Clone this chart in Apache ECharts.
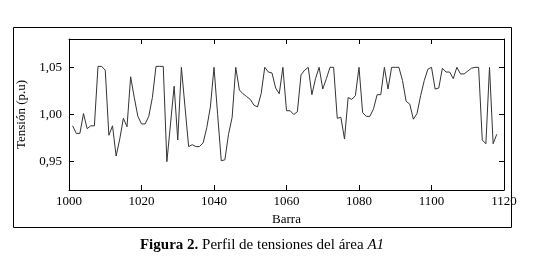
<!DOCTYPE html>
<html>
<head>
<meta charset="utf-8">
<script src="https://cdn.jsdelivr.net/npm/echarts@6/dist/echarts.min.js"></script>
<style>
  html, body { margin: 0; padding: 0; background: #fff; }
  #main { width: 546px; height: 266px; }
</style>
</head>
<body>
<div id="main"></div>
<script>
// barras 1001..1118
const firstBar = 1001;
const tensiones = [
  0.988, 0.980, 0.980, 1.001, 0.985, 0.988, 0.988, 1.051, 1.051, 1.047,
  0.978, 0.988, 0.956, 0.974, 0.996, 0.987, 1.040, 1.018, 0.998, 0.990,
  0.990, 0.998, 1.018, 1.051, 1.051, 1.051, 0.950, 0.990, 1.030, 0.973,
  1.050, 1.008, 0.966, 0.968, 0.966, 0.966, 0.970, 0.986, 1.008, 1.050,
  1.000, 0.951, 0.952, 0.979, 0.997, 1.050, 1.026, 1.022, 1.019, 1.016,
  1.010, 1.008, 1.022, 1.050, 1.045, 1.044, 1.028, 1.022, 1.050, 1.004,
  1.004, 1.000, 1.003, 1.042, 1.047, 1.050, 1.021, 1.038, 1.050, 1.027,
  1.038, 1.050, 1.050, 0.996, 0.997, 0.974, 1.018, 1.016, 1.020, 1.050,
  1.002, 0.998, 0.998, 1.006, 1.021, 1.021, 1.050, 1.027, 1.050, 1.050,
  1.050, 1.036, 1.014, 1.011, 0.995, 1.001, 1.020, 1.036, 1.048, 1.050,
  1.027, 1.028, 1.049, 1.045, 1.045, 1.038, 1.050, 1.043, 1.043, 1.046,
  1.049, 1.050, 1.050, 0.973, 0.969, 1.050, 0.969, 0.979
];
const yTicks = [0.95, 1.00, 1.05];

const serif = 'Liberation Serif';
const chart = echarts.init(document.getElementById('main'));

const data = tensiones.map((v, i) => [firstBar + i, v]);
const fmt = v => v.toFixed(2).replace('.', ',');

chart.setOption({
  animation: false,
  grid: { left: 69, right: 42, top: 39, bottom: 76 },
  xAxis: [
    {
      type: 'value', min: 1000, max: 1120, interval: 20,
      name: 'Barra', nameLocation: 'middle', nameGap: 22,
      nameTextStyle: { fontFamily: serif, fontSize: 13, color: '#000' },
      axisLine: { lineStyle: { color: '#000', width: 1 } },
      axisTick: { inside: true, length: 5, lineStyle: { color: '#000' } },
      axisLabel: { fontFamily: serif, fontSize: 13, color: '#000', margin: 5, formatter: v => String(v) },
      splitLine: { show: false }
    },
    {
      type: 'value', position: 'top', min: 1000, max: 1120, interval: 20,
      axisLine: { lineStyle: { color: '#000', width: 1 } },
      axisTick: { inside: true, length: 5, lineStyle: { color: '#000' } },
      axisLabel: { show: false },
      splitLine: { show: false }
    }
  ],
  yAxis: [
    {
      type: 'value', min: 0.92, max: 1.08,
      name: 'Tensión (p.u)', nameLocation: 'middle', nameGap: 23,
      nameTextStyle: { fontFamily: serif, fontSize: 13, color: '#000' },
      axisLine: { show: true, lineStyle: { color: '#000', width: 1 } },
      axisTick: { show: true, inside: true, length: 5, customValues: yTicks, lineStyle: { color: '#000' } },
      axisLabel: { fontFamily: serif, fontSize: 13, color: '#000', margin: 7, customValues: yTicks, formatter: fmt },
      splitLine: { show: false }
    },
    {
      type: 'value', position: 'right', min: 0.92, max: 1.08,
      axisLine: { show: true, lineStyle: { color: '#000', width: 1 } },
      axisTick: { show: true, inside: true, length: 5, customValues: yTicks, lineStyle: { color: '#000' } },
      axisLabel: { show: false, customValues: yTicks },
      splitLine: { show: false }
    }
  ],
  series: [
    {
      type: 'line',
      data: data,
      showSymbol: false,
      lineStyle: { color: '#333', width: 1 },
      silent: true
    }
  ],
  graphic: [
    {
      type: 'rect', left: 11, top: 25, silent: true,
      shape: { width: 498, height: 200 },
      style: { fill: 'none', stroke: '#000', lineWidth: 1 }
    },
    {
      type: 'text', x: 262, y: 245, silent: true,
      style: {
        text: '{b|Figura 2.} Perfil de tensiones del área {i|A1}',
        align: 'center', verticalAlign: 'middle',
        rich: {
          b: { fontFamily: serif, fontSize: 15, fontWeight: 'bold', fill: '#000' },
          i: { fontFamily: serif, fontSize: 15, fontStyle: 'italic', fill: '#000' }
        },
        font: '15px "Liberation Serif"',
        fill: '#000'
      }
    }
  ]
});
</script>
</body>
</html>
